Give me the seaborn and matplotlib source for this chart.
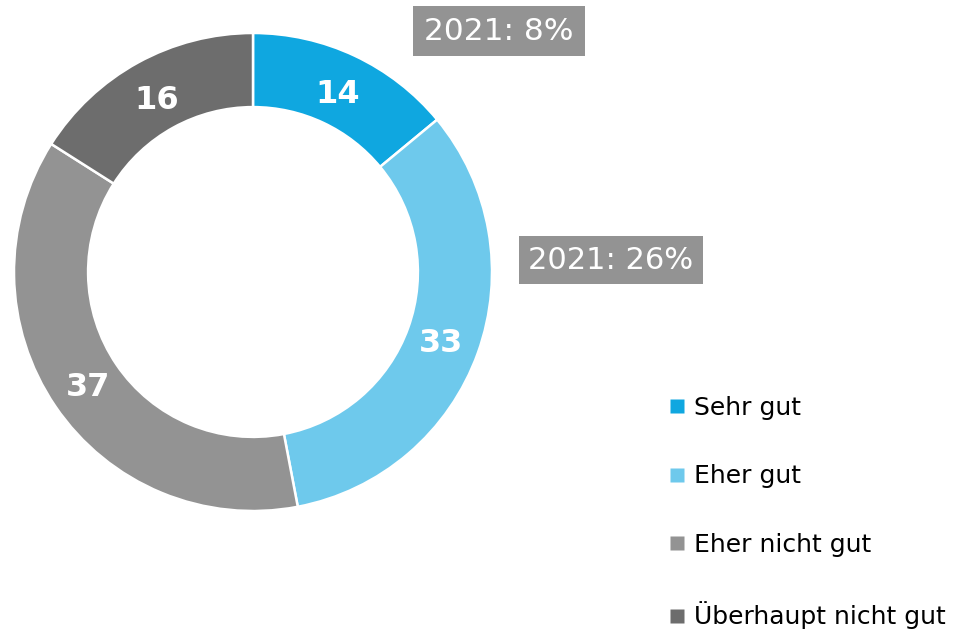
import matplotlib
matplotlib.use("Agg")
import matplotlib.pyplot as plt
import seaborn as sns
from matplotlib.lines import Line2D

categories = ["Sehr gut", "Eher gut", "Eher nicht gut", "Überhaupt nicht gut"]
values = [14, 33, 37, 16]
colors = ["#0FA7E0", "#6EC9EC", "#939393", "#6D6D6D"]
notes = ["2021: 8%", "2021: 26%"]

sns.set_theme(style="white")
plt.rcParams["font.family"] = ["DejaVu Sans"]

W, H = 959, 631
fig = plt.figure(figsize=(W / 100, H / 100), dpi=100)
cx, cy, R = 253, 272, 239
ax = fig.add_axes([(cx - R) / W, (H - cy - R) / H, 2 * R / W, 2 * R / H])
ax.set_xlim(-1, 1)
ax.set_ylim(-1, 1)
ax.set_aspect("equal")
ax.axis("off")

wedges, texts = ax.pie(
    values, colors=colors, startangle=90, counterclock=False, radius=1,
    wedgeprops=dict(width=0.31, edgecolor="white", linewidth=1.8),
    labels=[str(v) for v in values], labeldistance=0.835,
    textprops=dict(color="white", fontsize=23, fontweight="bold",
                   ha="center", va="center_baseline"),
)
ax.set_xlim(-1, 1)
ax.set_ylim(-1, 1)

box1 = dict(boxstyle="square,pad=0.35", fc="#939393", ec="none")
box2 = dict(boxstyle="square,pad=0.3", fc="#939393", ec="none")
fig.text(499 / W, 1 - 31 / H, notes[0], fontsize=22.5, color="white",
         ha="center", va="center", bbox=box1)
fig.text(611 / W, 1 - 260 / H, notes[1], fontsize=22, color="white",
         ha="center", va="center", bbox=box2)

handles = [Line2D([0], [0], marker="s", linestyle="none", markersize=9.5,
                  markerfacecolor=c, markeredgecolor="none") for c in colors]
fig.legend(handles, categories, loc="upper left",
           bbox_to_anchor=(669 / W, 1 - 396 / H), frameon=False,
           fontsize=18, labelspacing=1.78, handlelength=0.6,
           handletextpad=0.4, borderaxespad=0, borderpad=0,
           labelcolor="black")

fig.savefig("out.png", dpi=100, facecolor="white")
